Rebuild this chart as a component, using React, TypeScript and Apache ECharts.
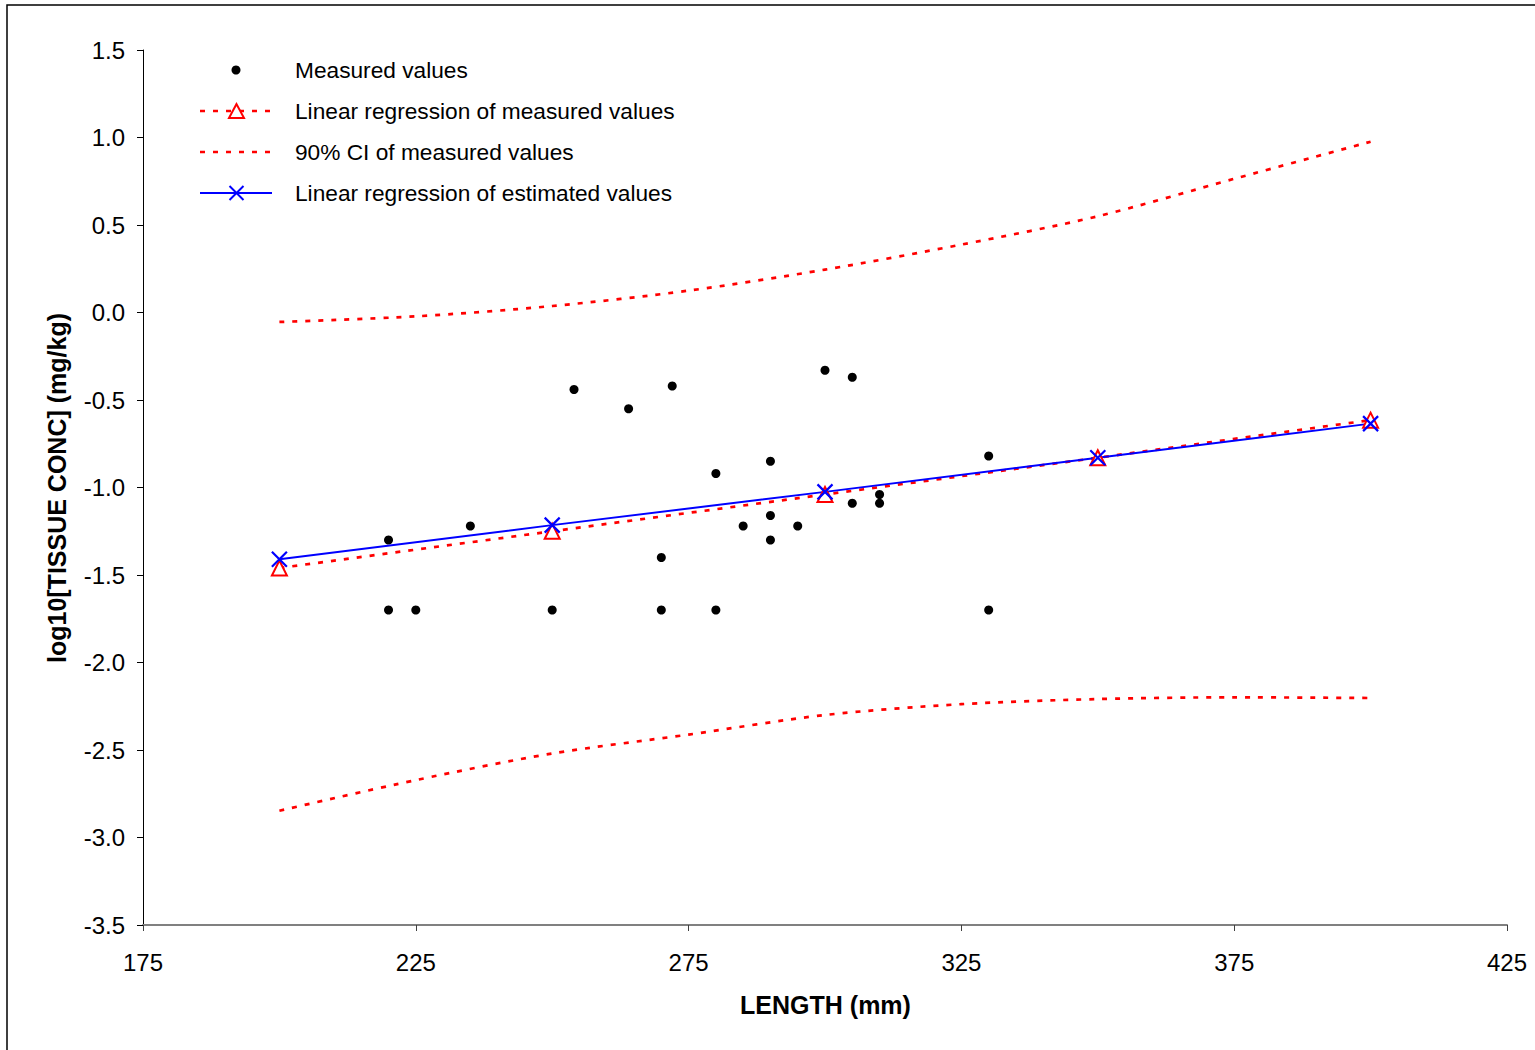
import React, { useEffect, useRef } from "react";
import * as echarts from "echarts";

const FONT = '"Liberation Sans", Arial, sans-serif';

// Measured values
const measuredX = [220, 220, 225, 235, 250, 254, 264, 270, 270, 272, 280, 280, 285, 290, 290, 290, 295, 300, 305, 305, 310, 310, 330, 330];
const measuredY = [-1.30, -1.70, -1.70, -1.22, -1.70, -0.44, -0.55, -1.40, -1.70, -0.42, -0.92, -1.70, -1.22, -0.85, -1.16, -1.30, -1.22, -0.33, -0.37, -1.09, -1.04, -1.09, -0.82, -1.70];

// Regression lines
const regX = [200, 250, 300, 350, 400];
const regMeasuredY = [-1.46, -1.25, -1.04, -0.83, -0.615];
const regEstimatedY = [-1.41, -1.215, -1.025, -0.83, -0.635];

// 90% confidence interval
const ciX = [200, 225, 250, 275, 300, 325, 350, 375, 400];
const ciUpper = [-0.054, -0.022, 0.037, 0.125, 0.245, 0.388, 0.55, 0.764, 0.976];
const ciLower = [-2.847, -2.672, -2.52, -2.412, -2.30, -2.238, -2.209, -2.199, -2.203];

// Axis ticks
const xTicks = { min: 175, max: 425, interval: 50 };
const yTicks = { min: -3.5, max: 1.5, interval: 0.5 };

const legendNames = [
  "Measured values",
  "Linear regression of measured values",
  "90% CI of measured values",
  "Linear regression of estimated values",
];

const zip = (xs: number[], ys: number[]) => xs.map((x, i) => [x, ys[i]]);

export default function App() {
  const ref = useRef<HTMLDivElement>(null);
  useEffect(() => {
    if (!ref.current) return;
    const chart = echarts.init(ref.current, undefined, { renderer: "svg" });
    const red = "#ff0000";
    const blue = "#0000ff";
    const dash = [5, 8];
    const rowY = (i: number) => 70 + 41 * i;
    const legendGraphics: any[] = [];
    // row 0: dot
    legendGraphics.push({ type: "circle", shape: { cx: 236, cy: rowY(0), r: 4.5 }, style: { fill: "#000" } });
    // row 1: red dotted + triangle
    legendGraphics.push({ type: "line", shape: { x1: 200, y1: rowY(1), x2: 272, y2: rowY(1) }, style: { stroke: red, lineWidth: 2.7, lineDash: dash } });
    legendGraphics.push({ type: "polygon", shape: { points: [[236.5, rowY(1) - 7], [229, rowY(1) + 7], [244, rowY(1) + 7]] }, style: { fill: "#fff", stroke: red, lineWidth: 2 } });
    // row 2: red dotted
    legendGraphics.push({ type: "line", shape: { x1: 200, y1: rowY(2), x2: 272, y2: rowY(2) }, style: { stroke: red, lineWidth: 2.7, lineDash: dash } });
    // row 3: blue line + x
    legendGraphics.push({ type: "line", shape: { x1: 200, y1: rowY(3), x2: 272, y2: rowY(3) }, style: { stroke: blue, lineWidth: 2 } });
    legendGraphics.push({ type: "line", shape: { x1: 229.5, y1: rowY(3) - 7, x2: 243.5, y2: rowY(3) + 7 }, style: { stroke: blue, lineWidth: 2 } });
    legendGraphics.push({ type: "line", shape: { x1: 229.5, y1: rowY(3) + 7, x2: 243.5, y2: rowY(3) - 7 }, style: { stroke: blue, lineWidth: 2 } });
    legendNames.forEach((n, i) => {
      legendGraphics.push({
        type: "text",
        x: 295,
        y: rowY(i),
        style: { text: n, font: `22.7px ${FONT}`, fill: "#000", align: "left", verticalAlign: "middle" },
      });
    });

    chart.setOption({
      animation: false,
      backgroundColor: "#ffffff",
      grid: { left: 143, top: 50, right: 28, bottom: 125 },
      xAxis: {
        type: "value",
        min: xTicks.min,
        max: xTicks.max,
        interval: xTicks.interval,
        axisLine: { show: true, onZero: false, lineStyle: { color: "#808080", width: 2 } },
        axisTick: { show: true, length: 6, lineStyle: { color: "#404040", width: 1 } },
        axisLabel: { fontSize: 24, color: "#000", fontFamily: FONT, margin: 25 },
        splitLine: { show: false },
      },
      yAxis: {
        type: "value",
        min: yTicks.min,
        max: yTicks.max,
        interval: yTicks.interval,
        axisLine: { show: true, onZero: false, lineStyle: { color: "#000", width: 1 } },
        axisTick: { show: true, length: 6, lineStyle: { color: "#000", width: 1 } },
        axisLabel: { fontSize: 24, color: "#000", fontFamily: FONT, margin: 18, formatter: (v: number) => v.toFixed(1) },
        splitLine: { show: false },
      },
      graphic: [
        { type: "rect", shape: { x: 7, y: 5, width: 1700, height: 1200 }, style: { fill: "none", stroke: "#000", lineWidth: 1.5 }, silent: true },
        {
          type: "text",
          x: 825.5,
          y: 1005,
          style: { text: "LENGTH (mm)", font: `bold 25px ${FONT}`, fill: "#000", align: "center", verticalAlign: "middle" },
        },
        {
          type: "text",
          x: 57,
          y: 488,
          rotation: Math.PI / 2,
          style: { text: "log10[TISSUE CONC] (mg/kg)", font: `bold 25px ${FONT}`, fill: "#000", align: "center", verticalAlign: "middle" },
        },
        ...legendGraphics,
      ],
      series: [
        {
          name: legendNames[0],
          type: "scatter",
          data: zip(measuredX, measuredY),
          symbol: "circle",
          symbolSize: 9,
          itemStyle: { color: "#000", opacity: 1 },
        },
        {
          name: legendNames[1],
          type: "line",
          data: zip(regX, regMeasuredY),
          symbol: "triangle",
          symbolSize: 15,
          showAllSymbol: true,
          itemStyle: { color: "#fff", borderColor: red, borderWidth: 2 },
          lineStyle: { color: red, width: 2.7, type: dash },
        },
        {
          name: legendNames[2],
          type: "line",
          data: zip(ciX, ciUpper),
          smooth: 0.3,
          symbol: "none",
          lineStyle: { color: red, width: 2.7, type: dash },
        },
        {
          name: legendNames[2],
          type: "line",
          data: zip(ciX, ciLower),
          smooth: 0.3,
          symbol: "none",
          lineStyle: { color: red, width: 2.7, type: dash },
        },
        {
          name: legendNames[3],
          type: "line",
          data: zip(regX, regEstimatedY),
          symbol: "path://M0,0L10,10M0,10L10,0",
          symbolSize: 15,
          showAllSymbol: true,
          itemStyle: { color: "rgba(0,0,0,0)", borderColor: blue, borderWidth: 2.2 },
          lineStyle: { color: blue, width: 2 },
        },
      ],
    });
    return () => chart.dispose();
  }, []);
  return <div ref={ref} style={{ position: "absolute", left: 0, top: 0, width: 1535, height: 1050 }} />;
}
